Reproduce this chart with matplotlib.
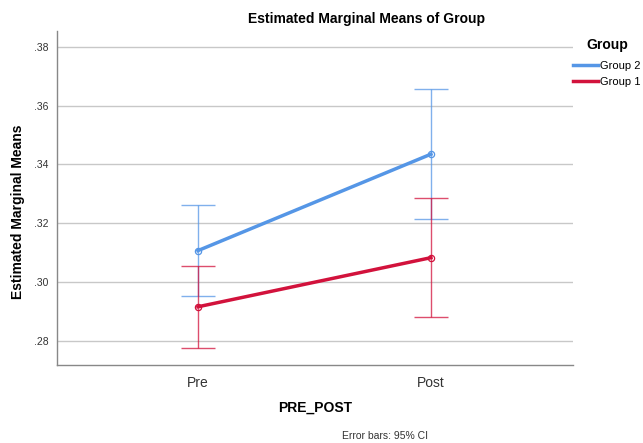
import matplotlib
matplotlib.use("Agg")
import matplotlib.pyplot as plt

plt.rcParams['font.family'] = ['Liberation Sans', 'DejaVu Sans']

# values
times = ["Pre", "Post"]
group_names = ["Group 2", "Group 1"]
means = {"Group 2": [0.3107, 0.3435], "Group 1": [0.2916, 0.3083]}
ci_low = {"Group 2": [0.2954, 0.3213], "Group 1": [0.2776, 0.2882]}
ci_high = {"Group 2": [0.3261, 0.3657], "Group 1": [0.3056, 0.3285]}
colors = {"Group 2": "#5596E6", "Group 1": "#D2123C"}
yticks = [0.28, 0.30, 0.32, 0.34, 0.36, 0.38]

fig = plt.figure(figsize=(6.43, 4.43), dpi=100)
ax = fig.add_axes((57 / 643, 78 / 443, 516 / 643, 334 / 443))

x = list(range(len(times)))
for g in group_names:
    m = means[g]
    lo = [mm - l for mm, l in zip(m, ci_low[g])]
    hi = [h - mm for mm, h in zip(m, ci_high[g])]
    ax.errorbar(x, m, yerr=[lo, hi], fmt="none", ecolor=colors[g],
                elinewidth=1.0, capsize=12, capthick=1.0, alpha=0.75, zorder=3)
    ax.plot(x, m, color=colors[g], lw=2.5, marker="o", ms=4.5,
            mfc="none", mec=colors[g], mew=0.9, label=g, zorder=4)

ax.set_xlim(-0.605, 1.61)
ax.set_ylim(0.2718, 0.3854)
ax.set_yticks(yticks)
ax.set_yticklabels([("%.2f" % v)[1:] for v in yticks], fontsize=7.5, color="#333333")
ax.set_xticks(x)
ax.set_xticklabels(times, fontsize=10, color="#333333")
ax.tick_params(length=0, pad=6)
ax.tick_params(axis="x", pad=8)
ax.yaxis.grid(True, color="#C8C8C8", lw=1.0)
ax.set_axisbelow(True)
for s in ["top", "right"]:
    ax.spines[s].set_visible(False)
for s in ["left", "bottom"]:
    ax.spines[s].set_color("#888888")
    ax.spines[s].set_linewidth(1.0)

fig.text(18 / 643, 1 - 212 / 443, "Estimated Marginal Means", ha="center", va="center",
         rotation=90, fontsize=10, fontweight="bold")
fig.text(315 / 643, 1 - 408 / 443, "PRE_POST", ha="center", va="center",
         fontsize=10, fontweight="bold")
fig.text(367 / 643, 1 - 19 / 443, "Estimated Marginal Means of Group", ha="center",
         va="center", fontsize=10, fontweight="bold")
fig.text(385 / 643, 1 - 436 / 443, "Error bars: 95% CI", ha="center", va="center",
         fontsize=7.5, color="#333333")

fig.text(586 / 643, 1 - 45 / 443, "Group", ha="left", va="center",
         fontsize=10, fontweight="bold")
leg = fig.legend(loc="upper left", bbox_to_anchor=(573 / 643, 1 - 61 / 443), frameon=False,
                 fontsize=8, handlelength=2.25, handletextpad=0.2,
                 labelspacing=0.5, borderaxespad=0, borderpad=0)
for h in leg.legend_handles:
    h.set_marker("")

fig.savefig("out.png", dpi=100)
